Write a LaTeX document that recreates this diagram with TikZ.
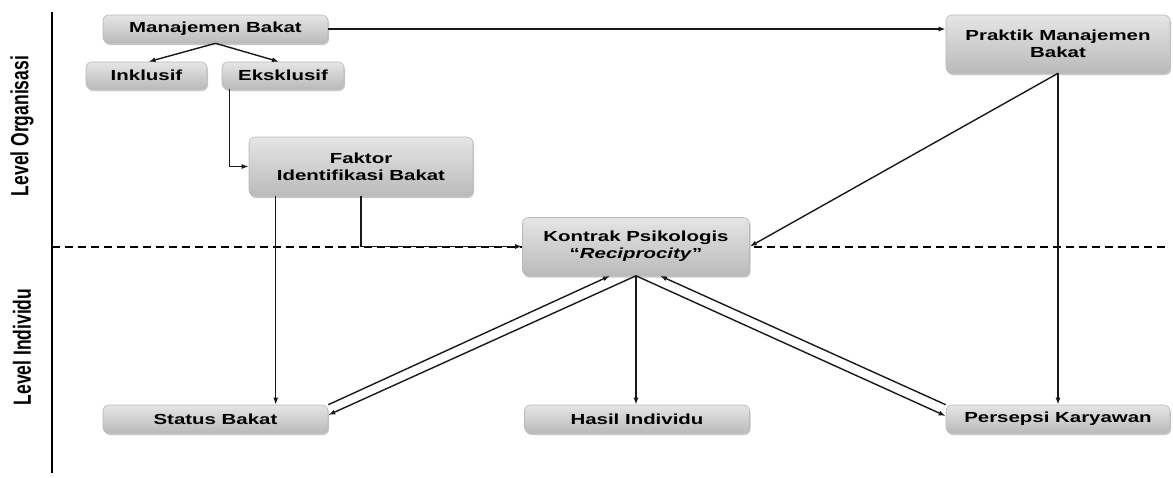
\documentclass[tikz,border=0pt]{standalone}
\usepackage{fontspec}
\usepackage{graphicx}
\setmainfont{Liberation Sans}
\newfontfamily\wf[FakeStretch=1.4]{Liberation Sans}
\usetikzlibrary{arrows.meta,shadows,calc}
\tikzset{
  box/.style={rectangle, rounded corners=6pt, draw=black!28, line width=0.6pt,
    top color=black!10, bottom color=black!27,
    drop shadow={shadow xshift=1pt, shadow yshift=-2pt, opacity=0.22, fill=black},
    font=\wf\bfseries\fontsize{14.6}{17}\selectfont, align=center, inner sep=0pt},
  conn/.style={line width=1.4pt, black!90},
  arr/.style={conn, -{Latex[length=7pt,width=5pt]}},
  sidelabel/.style={rotate=90, font=\bfseries\fontsize{17.5}{20}\selectfont, inner sep=0pt}
}
\begin{document}
\begin{tikzpicture}[x=1pt,y=-1pt]
\useasboundingbox (0,0) rectangle (1173,477);
% axes
\coordinate (vt) at (52,12);
\coordinate (vb) at (52,473);
\coordinate (dl) at (52,247);
\coordinate (dr) at (1167,247);
\draw[line width=1.4pt] (vt) -- (vb);
\draw[line width=1.2pt, dash pattern=on 8pt off 5pt] (dl) -- (dr);
\node[sidelabel] (lo) at (22,126) {\scalebox{1}[1.42]{Level Organisasi}};
\node[sidelabel] (li) at (22,347) {\scalebox{1}[1.42]{Level Individu}};
% boxes
\node[box, minimum width=225pt, minimum height=28pt] (mb) at (215.5,29) {Manajemen Bakat};
\node[box, minimum width=121pt, minimum height=27pt] (ink) at (146.5,75.5) {Inklusif};
\node[box, minimum width=122pt, minimum height=27pt] (eks) at (283,75.5) {Eksklusif};
\node[box, minimum width=224pt, minimum height=59pt] (fak) at (361,166.5) {Faktor\\Identifikasi Bakat};
\node[box, minimum width=224pt, minimum height=58pt] (prak) at (1058,44) {Praktik Manajemen\\Bakat};
\node[box, minimum width=227pt, minimum height=58pt] (kon) at (636,246.5) {Kontrak Psikologis\\“\textit{Reciprocity}”};
\node[box, minimum width=225pt, minimum height=28pt] (stat) at (215.5,419) {Status Bakat};
\node[box, minimum width=225pt, minimum height=28pt] (has) at (637,419) {Hasil Individu};
\node[box, minimum width=224pt, minimum height=28pt] (pers) at (1058,419) {Persepsi Karyawan};
% connectors
\draw[arr] (mb.south) -- ([xshift=2pt]ink.north);
\draw[arr] (mb.south) -- ([xshift=-4pt]eks.north);
\draw[arr] (mb.east) -- (mb.east -| prak.west);
\draw[arr] ([xshift=8pt]eks.south west) |- (fak.west);
\draw[arr] ([xshift=27pt]fak.south west) -- ([xshift=27pt]fak.south west |- stat.north);
\draw[arr] (fak.south) |- (kon.west);
\draw[arr] (prak.south) -- (kon.east);
\draw[arr] (prak.south) -- (pers.north);
\draw[arr] (kon.south) -- (kon.south |- has.north);
\draw[arr] (kon.south) -- ([yshift=4pt]stat.east);
\draw[arr] (stat.north east) -- ([xshift=-26pt]kon.south);
\draw[arr] (kon.south) -- ([yshift=3pt]pers.west);
\draw[arr] (pers.north west) -- ([xshift=24pt]kon.south);
\end{tikzpicture}
\end{document}
